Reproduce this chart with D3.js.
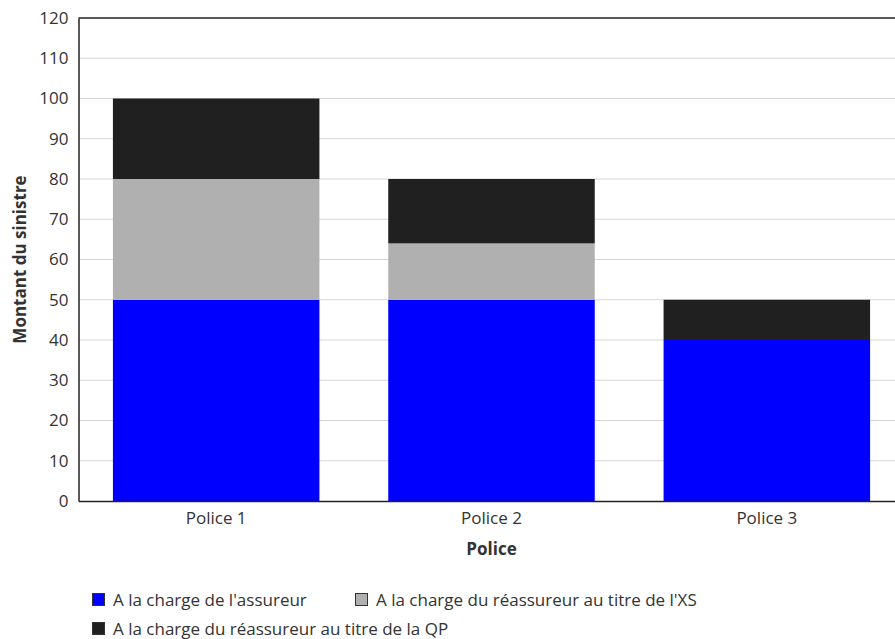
<!DOCTYPE html>
<html>
<head>
<meta charset="utf-8">
<script src="https://cdn.jsdelivr.net/npm/d3@7"></script>
<style>
  html, body { margin: 0; padding: 0; background: #fff; }
  svg { display: block; font-family: "Open Sans", "Noto Sans", sans-serif; }
</style>
</head>
<body>
<svg id="chart" width="895" height="639"></svg>
<script>
// Polices and stacked claim shares
const categories = ["Police 1", "Police 2", "Police 3"];
const seriesNames = [
  "A la charge de l'assureur",
  "A la charge du réassureur au titre de l'XS",
  "A la charge du réassureur au titre de la QP"
];
const assureur = [50, 50, 40];
const reassureurXS = [30, 14, 0];
const reassureurQP = [20, 16, 10];
const yTicks = [0, 10, 20, 30, 40, 50, 60, 70, 80, 90, 100, 110, 120];
const colors = ["#0000ff", "#b0b0b0", "#202020"];

const svg = d3.select("#chart");
const plot = { left: 78.5, top: 18, right: 904.5, bottom: 501 };
const fontSize = 17;

const rows = categories.map((c, i) => ({
  cat: c, s0: assureur[i], s1: reassureurXS[i], s2: reassureurQP[i]
}));
const stack = d3.stack().keys(["s0", "s1", "s2"])(rows);

const x = d3.scaleBand().domain(categories)
  .range([plot.left, plot.right]).paddingInner(0.25).paddingOuter(0.125);
const y = d3.scaleLinear().domain([0, 120]).range([plot.bottom, plot.top]);

// horizontal grid
svg.append("g").selectAll("line").data(yTicks.filter(t => t > 0 && t < 120)).join("line")
  .attr("x1", plot.left).attr("x2", 895)
  .attr("y1", d => y(d)).attr("y2", d => y(d))
  .attr("stroke", "#d6d6d6").attr("stroke-width", 1);

// stacked bars
svg.append("g").selectAll("g").data(stack).join("g")
  .attr("fill", (d, i) => colors[i])
  .selectAll("rect").data(d => d.filter(s => s[1] > s[0])).join("rect")
  .attr("x", d => x(d.data.cat))
  .attr("width", x.bandwidth())
  .attr("y", d => y(d[1]))
  .attr("height", d => y(d[0]) - y(d[1]));

// frame: top, left, bottom
svg.append("line").attr("x1", plot.left).attr("x2", 895)
  .attr("y1", plot.top).attr("y2", plot.top)
  .attr("stroke", "#222").attr("stroke-width", 1.5);

const yAxis = svg.append("g").attr("transform", `translate(${plot.left},0)`)
  .call(d3.axisLeft(y).tickValues(yTicks).tickSize(0).tickPadding(10));
yAxis.select(".domain").attr("stroke", "#222").attr("stroke-width", 1.5);
yAxis.selectAll("text").attr("font-size", fontSize).attr("fill", "#333")
  .attr("font-family", "'Open Sans', sans-serif");

const xAxis = svg.append("g").attr("transform", `translate(0,${plot.bottom})`)
  .call(d3.axisBottom(x).tickSize(0).tickPadding(11));
xAxis.select(".domain").attr("stroke", "#222").attr("stroke-width", 1.5);
xAxis.selectAll("text").attr("font-size", fontSize).attr("fill", "#333")
  .attr("font-family", "'Open Sans', sans-serif");

// axis titles
svg.append("text").attr("x", x("Police 2") + x.bandwidth() / 2).attr("y", 549)
  .attr("dy", "0.35em")
  .attr("text-anchor", "middle").attr("font-size", fontSize).attr("font-weight", "bold")
  .attr("fill", "#333").text("Police");
svg.append("text").attr("transform", `translate(20,${(plot.top + plot.bottom) / 2}) rotate(-90)`)
  .attr("dy", "0.35em")
  .attr("text-anchor", "middle").attr("font-size", fontSize).attr("font-weight", "bold")
  .attr("fill", "#333").text("Montant du sinistre");

// legend
const legendPos = [[92, 600], [355, 600], [92, 629]];
const legend = svg.append("g").selectAll("g").data(seriesNames).join("g")
  .attr("transform", (d, i) => `translate(${legendPos[i][0]},${legendPos[i][1]})`);
legend.append("rect").attr("x", 0.5).attr("y", -6.5).attr("width", 12).attr("height", 12)
  .attr("fill", (d, i) => colors[i]).attr("stroke", "#333").attr("stroke-width", 1);
legend.append("text").attr("x", 21).attr("y", 0).attr("dy", "0.35em")
  .attr("font-size", fontSize).attr("fill", "#333").text(d => d);
</script>
</body>
</html>
